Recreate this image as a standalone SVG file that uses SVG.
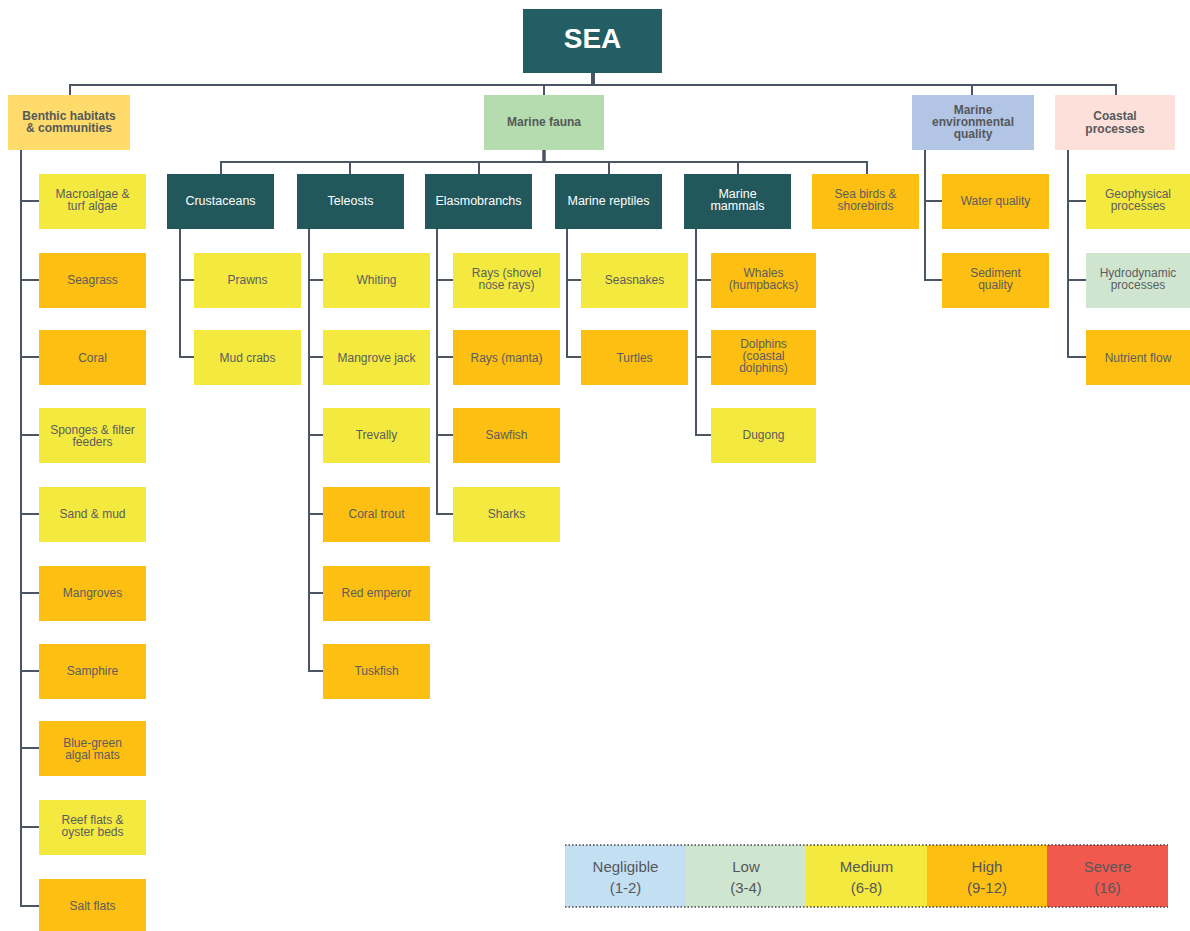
<svg xmlns="http://www.w3.org/2000/svg" width="1190" height="931" viewBox="0 0 1190 931">
<style>
  text { font-family: "Liberation Sans", Arial, sans-serif; text-anchor: middle; }
  .leaf text { font-size: 12px; fill: #5b5d5f; }
  .cat text { font-size: 12px; font-weight: bold; fill: #55585b; }
  .grp text { font-size: 12.5px; fill: #ffffff; }
  .yel { fill: #f3e93f; }
  .org { fill: #fdbf12; }
  .lgr { fill: #d0e5cf; }
  .dark { fill: #22575c; }
  .conn { fill: none; stroke: #4b5563; stroke-width: 2; }
  .legend text { font-size: 15px; fill: #55585b; }
  .dots { stroke: #444; stroke-width: 1.5; stroke-dasharray: 1.5 2; }
</style>

<!-- connectors -->
<g id="connectors" class="conn">
  <line x1="593" y1="73" x2="593" y2="85" stroke-width="4"/>
  <path d="M70 95 V85 H1116 V95 M544 85 V95 M972 85 V95"/>
  <line x1="544" y1="150" x2="544" y2="162" stroke-width="3.5"/>
  <path d="M221 174 V162 H867 V174 M350 162 V174 M479 162 V174 M609 162 V174 M738 162 V174"/>
  <!-- benthic column -->
  <path d="M21 150 V906 H39 M21 201 H39 M21 280 H39 M21 357 H39 M21 435 H39 M21 514 H39 M21 593 H39 M21 671 H39 M21 748 H39 M21 827 H39"/>
  <!-- crustaceans -->
  <path d="M180 229 V357 H194 M180 280 H194"/>
  <!-- teleosts -->
  <path d="M309 229 V671 H323 M309 280 H323 M309 357 H323 M309 435 H323 M309 514 H323 M309 593 H323"/>
  <!-- elasmobranchs -->
  <path d="M437 229 V514 H453 M437 280 H453 M437 357 H453 M437 435 H453"/>
  <!-- marine reptiles -->
  <path d="M567 229 V357 H581 M567 280 H581"/>
  <!-- marine mammals -->
  <path d="M696 229 V435 H711 M696 280 H711 M696 357 H711"/>
  <!-- environmental quality -->
  <path d="M925 150 V280 H942 M925 201 H942"/>
  <!-- coastal processes -->
  <path d="M1068 150 V357 H1086 M1068 201 H1086 M1068 280 H1086"/>
</g>

<!-- root -->
<g id="sea">
  <rect x="523" y="9" width="139" height="64" fill="#245e65"/>
  <text x="592.5" y="48" font-size="28" font-weight="bold" fill="#ffffff">SEA</text>
</g>

<!-- categories -->
<g id="benthic" class="cat">
  <rect x="8" y="95" width="122" height="55" fill="#fedb6b"/>
  <text x="69" y="120">Benthic habitats</text>
  <text x="69" y="132">&amp; communities</text>
</g>
<g id="fauna" class="cat">
  <rect x="484" y="95" width="120" height="55" fill="#b5dcae"/>
  <text x="544" y="126">Marine fauna</text>
</g>
<g id="envquality" class="cat">
  <rect x="912" y="95" width="122" height="55" fill="#b3c5e5"/>
  <text x="973" y="114">Marine</text>
  <text x="973" y="126">environmental</text>
  <text x="973" y="138">quality</text>
</g>
<g id="coastal" class="cat">
  <rect x="1055" y="95" width="120" height="55" fill="#fde0da"/>
  <text x="1115" y="120">Coastal</text>
  <text x="1115" y="133">processes</text>
</g>

<!-- fauna groups -->
<g id="crustaceans" class="grp">
  <rect class="dark" x="167" y="174" width="107" height="55"/>
  <text x="220.5" y="205">Crustaceans</text>
</g>
<g id="teleosts" class="grp">
  <rect class="dark" x="297" y="174" width="107" height="55"/>
  <text x="350.5" y="205">Teleosts</text>
</g>
<g id="elasmobranchs" class="grp">
  <rect class="dark" x="425" y="174" width="107" height="55"/>
  <text x="478.5" y="205">Elasmobranchs</text>
</g>
<g id="reptiles" class="grp">
  <rect class="dark" x="555" y="174" width="107" height="55"/>
  <text x="608.5" y="205">Marine reptiles</text>
</g>
<g id="mammals" class="grp">
  <rect class="dark" x="684" y="174" width="107" height="55"/>
  <text x="737.5" y="198">Marine</text>
  <text x="737.5" y="210">mammals</text>
</g>
<g id="seabirds" class="leaf">
  <rect class="org" x="812" y="174" width="107" height="55"/>
  <text x="865.5" y="198">Sea birds &amp;</text>
  <text x="865.5" y="210">shorebirds</text>
</g>

<!-- benthic habitats -->
<g id="macroalgae" class="leaf"><rect class="yel" x="39" y="174" width="107" height="55"/><text x="92.5" y="198">Macroalgae &amp;</text><text x="92.5" y="210">turf algae</text></g>
<g id="seagrass" class="leaf"><rect class="org" x="39" y="253" width="107" height="55"/><text x="92.5" y="284">Seagrass</text></g>
<g id="coral" class="leaf"><rect class="org" x="39" y="330" width="107" height="55"/><text x="92.5" y="362">Coral</text></g>
<g id="sponges" class="leaf"><rect class="yel" x="39" y="408" width="107" height="55"/><text x="92.5" y="434">Sponges &amp; filter</text><text x="92.5" y="446">feeders</text></g>
<g id="sandmud" class="leaf"><rect class="yel" x="39" y="487" width="107" height="55"/><text x="92.5" y="518">Sand &amp; mud</text></g>
<g id="mangroves" class="leaf"><rect class="org" x="39" y="566" width="107" height="55"/><text x="92.5" y="597">Mangroves</text></g>
<g id="samphire" class="leaf"><rect class="org" x="39" y="644" width="107" height="55"/><text x="92.5" y="675">Samphire</text></g>
<g id="bluegreen" class="leaf"><rect class="org" x="39" y="721" width="107" height="55"/><text x="92.5" y="747">Blue-green</text><text x="92.5" y="759">algal mats</text></g>
<g id="reefflats" class="leaf"><rect class="yel" x="39" y="800" width="107" height="55"/><text x="92.5" y="824">Reef flats &amp;</text><text x="92.5" y="836">oyster beds</text></g>
<g id="saltflats" class="leaf"><rect class="org" x="39" y="879" width="107" height="55"/><text x="92.5" y="910">Salt flats</text></g>

<!-- crustaceans -->
<g id="prawns" class="leaf"><rect class="yel" x="194" y="253" width="107" height="55"/><text x="247.5" y="284">Prawns</text></g>
<g id="mudcrabs" class="leaf"><rect class="yel" x="194" y="330" width="107" height="55"/><text x="247.5" y="362">Mud crabs</text></g>

<!-- teleosts -->
<g id="whiting" class="leaf"><rect class="yel" x="323" y="253" width="107" height="55"/><text x="376.5" y="284">Whiting</text></g>
<g id="mangrovejack" class="leaf"><rect class="yel" x="323" y="330" width="107" height="55"/><text x="376.5" y="362">Mangrove jack</text></g>
<g id="trevally" class="leaf"><rect class="yel" x="323" y="408" width="107" height="55"/><text x="376.5" y="439">Trevally</text></g>
<g id="coraltrout" class="leaf"><rect class="org" x="323" y="487" width="107" height="55"/><text x="376.5" y="518">Coral trout</text></g>
<g id="redemperor" class="leaf"><rect class="org" x="323" y="566" width="107" height="55"/><text x="376.5" y="597">Red emperor</text></g>
<g id="tuskfish" class="leaf"><rect class="org" x="323" y="644" width="107" height="55"/><text x="376.5" y="675">Tuskfish</text></g>

<!-- elasmobranchs -->
<g id="shovelnose" class="leaf"><rect class="yel" x="453" y="253" width="107" height="55"/><text x="506.5" y="277">Rays (shovel</text><text x="506.5" y="289">nose rays)</text></g>
<g id="manta" class="leaf"><rect class="org" x="453" y="330" width="107" height="55"/><text x="506.5" y="362">Rays (manta)</text></g>
<g id="sawfish" class="leaf"><rect class="org" x="453" y="408" width="107" height="55"/><text x="506.5" y="439">Sawfish</text></g>
<g id="sharks" class="leaf"><rect class="yel" x="453" y="487" width="107" height="55"/><text x="506.5" y="518">Sharks</text></g>

<!-- marine reptiles -->
<g id="seasnakes" class="leaf"><rect class="yel" x="581" y="253" width="107" height="55"/><text x="634.5" y="284">Seasnakes</text></g>
<g id="turtles" class="leaf"><rect class="org" x="581" y="330" width="107" height="55"/><text x="634.5" y="362">Turtles</text></g>

<!-- marine mammals -->
<g id="whales" class="leaf"><rect class="org" x="711" y="253" width="105" height="55"/><text x="763.5" y="277">Whales</text><text x="763.5" y="289">(humpbacks)</text></g>
<g id="dolphins" class="leaf"><rect class="org" x="711" y="330" width="105" height="55"/><text x="763.5" y="348">Dolphins</text><text x="763.5" y="360">(coastal</text><text x="763.5" y="372">dolphins)</text></g>
<g id="dugong" class="leaf"><rect class="yel" x="711" y="408" width="105" height="55"/><text x="763.5" y="439">Dugong</text></g>

<!-- environmental quality -->
<g id="waterquality" class="leaf"><rect class="org" x="942" y="174" width="107" height="55"/><text x="995.5" y="205">Water quality</text></g>
<g id="sediment" class="leaf"><rect class="org" x="942" y="253" width="107" height="55"/><text x="995.5" y="277">Sediment</text><text x="995.5" y="289">quality</text></g>

<!-- coastal processes -->
<g id="geophysical" class="leaf"><rect class="yel" x="1086" y="174" width="104" height="55"/><text x="1138" y="198">Geophysical</text><text x="1138" y="210">processes</text></g>
<g id="hydrodynamic" class="leaf"><rect class="lgr" x="1086" y="253" width="104" height="55"/><text x="1138" y="277">Hydrodynamic</text><text x="1138" y="289">processes</text></g>
<g id="nutrient" class="leaf"><rect class="org" x="1086" y="330" width="104" height="55"/><text x="1138" y="362">Nutrient flow</text></g>

<!-- risk legend -->
<g id="legend" class="legend">
  <rect x="565" y="845" width="121" height="62" fill="#c3dff2"/>
  <rect x="686" y="845" width="120" height="62" fill="#d0e5cf"/>
  <rect x="806" y="845" width="121" height="62" fill="#f3e93f"/>
  <rect x="927" y="845" width="120" height="62" fill="#fdbf12"/>
  <rect x="1047" y="845" width="121" height="62" fill="#f2594e"/>
  <line class="dots" x1="565" y1="845" x2="1168" y2="845"/>
  <line class="dots" x1="565" y1="907" x2="1168" y2="907"/>
  <text x="625.5" y="872">Negligible</text><text x="625.5" y="893">(1-2)</text>
  <text x="746" y="872">Low</text><text x="746" y="893">(3-4)</text>
  <text x="866.5" y="872">Medium</text><text x="866.5" y="893">(6-8)</text>
  <text x="987" y="872">High</text><text x="987" y="893">(9-12)</text>
  <text x="1107.5" y="872">Severe</text><text x="1107.5" y="893">(16)</text>
</g>
</svg>
